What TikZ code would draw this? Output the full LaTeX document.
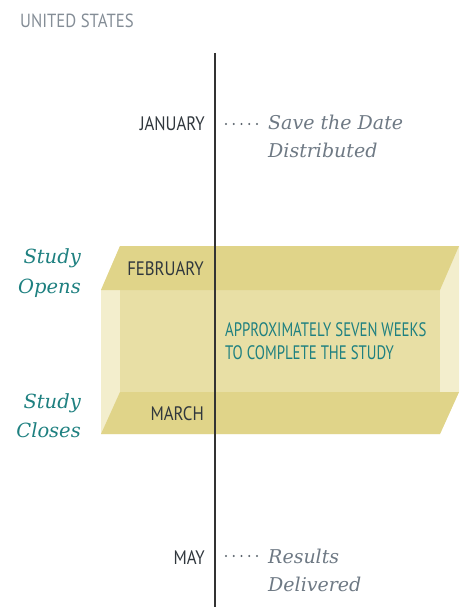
\documentclass[tikz,border=0pt]{standalone}
\usepackage{fontspec}
\newfontfamily\condfont[FakeStretch=0.76]{PT Sans}
\newfontfamily\monthfont[FakeStretch=0.86]{PT Sans}
\newfontfamily\headfont[FakeStretch=0.88]{PT Sans}
\newfontfamily\itfont{DejaVu Serif}
\definecolor{boxtop}{HTML}{E0D489}
\definecolor{boxmid}{HTML}{E8DFA5}
\definecolor{boxside}{HTML}{F3EECD}
\definecolor{tealc}{HTML}{1E8080}
\definecolor{greyt}{HTML}{6E7984}
\definecolor{dotc}{HTML}{5A636C}
\definecolor{darkt}{HTML}{30373D}
\definecolor{linec}{HTML}{333333}
\begin{document}
\begin{tikzpicture}[x=1pt,y=-1pt,
  month/.style={font=\monthfont\fontsize{19.5}{22}\selectfont, text=darkt, inner sep=0pt, anchor=base east},
  header/.style={font=\headfont\fontsize{19}{22}\selectfont, text=greyt!85!white, inner sep=0pt, anchor=base west},
  tealtxt/.style={font=\condfont\fontsize{19.5}{22}\selectfont, text=tealc, inner sep=0pt, anchor=base west},
  event/.style={font=\itfont\itshape\fontsize{19}{28}\selectfont, text=greyt, inner sep=0pt, anchor=base west},
  phase/.style={font=\itfont\itshape\fontsize{19.5}{30}\selectfont, text=tealc, inner sep=0pt, anchor=base east},
  leader/.style={draw=dotc, line width=2.3pt, line cap=round, dash pattern=on 0pt off 7.75pt},
  timeline/.style={draw=linec, line width=1.1pt}]
\useasboundingbox (0,0) rectangle (466,607);
% box
\fill[boxside] (101,290) -- (120,246) -- (459,246) -- (459,392) -- (440,434) -- (101,434) -- cycle;
\fill[boxmid] (120,290) rectangle (440,392);
\fill[boxtop] (120,246) -- (459,246) -- (440,290) -- (101,290) -- cycle;
\fill[boxtop] (120,392) -- (459,392) -- (440,434) -- (101,434) -- cycle;
% timeline
\coordinate (ttop) at (215,53);
\coordinate (tbot) at (215,607);
\draw[timeline] (ttop) -- (tbot);
% header
\node[header] (us) at (20,28) {UNITED STATES};
% months
\node[month] (jan) at (205,131) {JANUARY};
\node[month] (feb) at (204,275) {FEBRUARY};
\node[month] (mar) at (204,420) {MARCH};
\node[month] (may) at (205,564) {MAY};
% events
\node[event] (save) at (268,129) {Save the Date};
\node[event] (dist) at (268,157) {Distributed};
\node[event] (res) at (268,563) {Results};
\node[event] (deliv) at (268,591) {Delivered};
\coordinate (janL) at (226,124);
\coordinate (mayL) at (226,556);
\draw[leader] (janL) -- ++(31.1,0) coordinate (janR);
\draw[leader] (mayL) -- ++(31.1,0) coordinate (mayR);
% phases
\node[phase] (so1) at (81,263) {Study};
\node[phase] (so2) at (81,293) {Opens};
\node[phase] (sc1) at (81,408) {Study};
\node[phase] (sc2) at (81,437) {Closes};
% box text
\node[tealtxt] (ap1) at (225,336) {APPROXIMATELY SEVEN WEEKS};
\node[tealtxt] (ap2) at (225,359) {TO COMPLETE THE STUDY};
\end{tikzpicture}
\end{document}
